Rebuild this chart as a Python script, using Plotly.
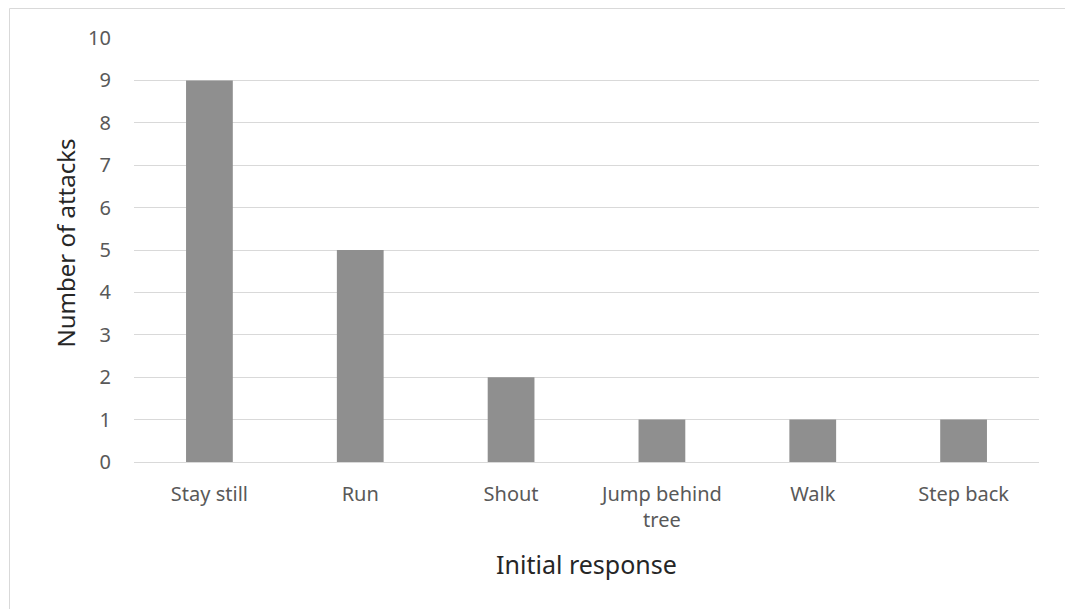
import plotly.graph_objects as go

# Data
responses = ["Stay still", "Run", "Shout", "Jump behind<br>tree", "Walk", "Step back"]
attacks = [9, 5, 2, 1, 1, 1]
y_ticks = list(range(0, 11))

W, H = 1065, 609
L, R, T, B = 134, 26, 38, 147
pw, ph = W - L - R, H - T - B

fig = go.Figure(
    go.Bar(
        x=responses,
        y=attacks,
        marker=dict(color="#8f8f8f", line=dict(width=0)),
        width=0.31,
    )
)

# Chart-area border
fig.add_shape(
    type="rect", xref="paper", yref="paper",
    x0=(9.5 - L) / pw, x1=(W + 5 - L) / pw,
    y0=(H - B - (H + 5)) / ph, y1=(H - B - 8.5) / ph,
    line=dict(color="#d9d9d9", width=1), fillcolor="rgba(0,0,0,0)",
    layer="below",
)

tick_font = dict(family="Noto Sans, Open Sans, sans-serif", size=20, color="#595959")
title_font = dict(family="Noto Sans, Open Sans, sans-serif", size=25, color="#262626")

# Vertical axis title, placed as an annotation for finer positioning
fig.add_annotation(
    text="Number of attacks", textangle=-90, showarrow=False,
    xref="paper", yref="paper",
    x=(64.5 - L) / pw, y=(H - B - 243) / ph,
    xanchor="center", yanchor="middle",
    font=dict(family=title_font["family"], size=24, color=title_font["color"]),
)

fig.update_layout(
    width=W, height=H,
    margin=dict(l=L, r=R, t=T, b=B, pad=0),
    paper_bgcolor="white", plot_bgcolor="white",
    showlegend=False,
    xaxis=dict(
        showgrid=False, showline=False, zeroline=False,
        ticks="", tickfont=tick_font, tickangle=0, ticklabelstandoff=18,
        title=dict(text="Initial response", font=title_font, standoff=24),
    ),
    yaxis=dict(
        range=[0, 10], tickvals=y_ticks, ticks="",
        showgrid=True, gridcolor="#d9d9d9", gridwidth=1,
        zeroline=True, zerolinecolor="#d9d9d9", zerolinewidth=1,
        showline=False, tickfont=tick_font, ticklabelstandoff=22,
    ),
)

fig.write_html("out.html")
